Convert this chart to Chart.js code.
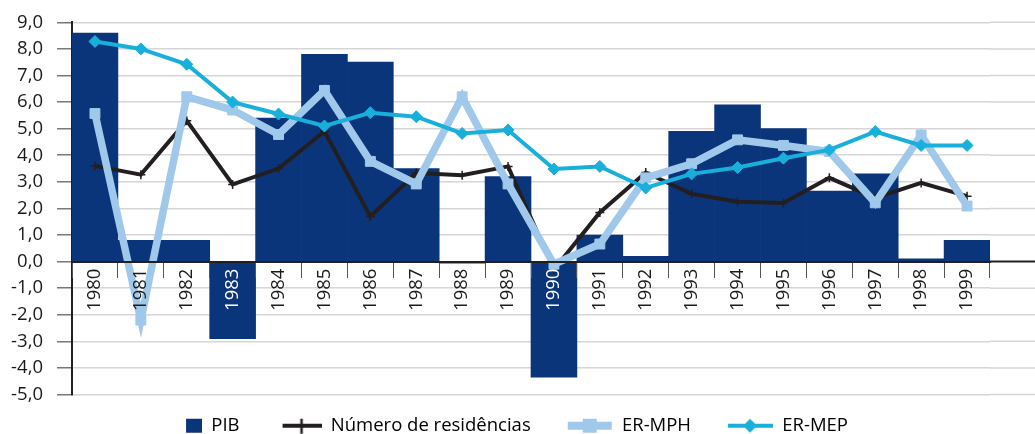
<!DOCTYPE html>
<html>
<head>
<meta charset="utf-8">
<script src="https://cdn.jsdelivr.net/npm/chart.js@4/dist/chart.umd.min.js"></script>
<style>
  html, body { margin: 0; padding: 0; background: #fff; }
  #wrap { width: 1035px; height: 434px; position: relative; }
</style>
</head>
<body>
<div id="wrap"><canvas id="chart"></canvas></div>
<script>
// Data
const years = ["1980", "1981", "1982", "1983", "1984", "1985", "1986", "1987", "1988", "1989",
               "1990", "1991", "1992", "1993", "1994", "1995", "1996", "1997", "1998", "1999"];
const pib = [8.6, 0.8, 0.8, -2.9, 5.4, 7.8, 7.5, 3.5, -0.06, 3.2,
             -4.35, 1.0, 0.2, 4.9, 5.9, 5.0, 2.65, 3.3, 0.1, 0.8];
const residencias = [3.6, 3.27, 5.3, 2.9, 3.5, 4.9, 1.7, 3.33, 3.25, 3.58,
                     -0.3, 1.85, 3.35, 2.55, 2.25, 2.2, 3.15, 2.4, 2.96, 2.46];
const erMph = [5.57, -2.2, 6.2, 5.7, 4.78, 6.44, 3.77, 2.92, 6.2, 2.92,
               -0.1, 0.66, 3.15, 3.68, 4.58, 4.37, 4.14, 2.21, 4.76, 2.09];
const erMep = [8.28, 8.0, 7.42, 6.0, 5.55, 5.1, 5.6, 5.45, 4.82, 4.95,
               3.48, 3.58, 2.77, 3.3, 3.54, 3.89, 4.2, 4.89, 4.37, 4.37];
const yMin = -5;
const yMax = 9;

const NAVY = "#0b357b";
const BLACK = "#231f20";
const LIGHT = "#a0c8eb";
const CYAN = "#19afdb";
const GRID = "#d6d6d6";

Chart.defaults.font.family = "'Open Sans', sans-serif";
Chart.defaults.font.size = 18.5;
Chart.defaults.color = "#1a1a1a";

// legend icons: the left part of each canvas is left empty as spacing
const ICON_W = 60;
function icon(draw) {
  const c = document.createElement("canvas");
  c.width = ICON_W;
  c.height = 18;
  const ctx = c.getContext("2d");
  ctx.translate(ICON_W - 45, 0);
  draw(ctx);
  return c;
}

const legendIcons = [
  icon(ctx => {
    ctx.fillStyle = NAVY;
    ctx.fillRect(29, 2, 16, 14);
  }),
  icon(ctx => {
    ctx.strokeStyle = BLACK;
    ctx.lineWidth = 4;
    ctx.beginPath(); ctx.moveTo(6, 9); ctx.lineTo(45, 9); ctx.stroke();
    ctx.lineWidth = 2.5;
    ctx.beginPath(); ctx.moveTo(25, 2); ctx.lineTo(25, 17); ctx.stroke();
  }),
  icon(ctx => {
    ctx.strokeStyle = LIGHT;
    ctx.lineWidth = 8;
    ctx.beginPath(); ctx.moveTo(0, 9); ctx.lineTo(44, 9); ctx.stroke();
    ctx.fillStyle = LIGHT;
    ctx.fillRect(15, 2, 14, 14);
  }),
  icon(ctx => {
    ctx.strokeStyle = CYAN;
    ctx.lineWidth = 4;
    ctx.beginPath(); ctx.moveTo(0, 9); ctx.lineTo(45, 9); ctx.stroke();
    ctx.fillStyle = CYAN;
    ctx.beginPath();
    ctx.moveTo(22, 2); ctx.lineTo(29, 9); ctx.lineTo(22, 16); ctx.lineTo(15, 9);
    ctx.closePath(); ctx.fill();
  })
];

// carries the horizontal grid lines (and the zero line) out to the right edge
const gridExtend = {
  id: "gridExtend",
  beforeDatasetsDraw(chart) {
    const { ctx, chartArea, scales: { y } } = chart;
    ctx.save();
    y.ticks.forEach((t, i) => {
      const py = y.getPixelForTick(i);
      ctx.strokeStyle = t.value === 0 ? BLACK : GRID;
      ctx.lineWidth = t.value === 0 ? 2 : 1.5;
      ctx.beginPath();
      ctx.moveTo(chartArea.right, py);
      ctx.lineTo(chart.width, py);
      ctx.stroke();
    });
    ctx.restore();
  }
};

new Chart(document.getElementById("chart"), {
  type: "bar",
  data: {
    labels: years,
    datasets: [
      {
        type: "bar",
        label: "PIB",
        data: pib,
        backgroundColor: NAVY,
        borderWidth: 0,
        barPercentage: 1,
        categoryPercentage: 1,
        order: 4
      },
      {
        type: "line",
        label: "Número de residências",
        data: residencias,
        borderColor: BLACK,
        borderWidth: 4,
        pointStyle: "cross",
        pointRadius: 4.5,
        pointBorderWidth: 1.5,
        pointBorderColor: BLACK,
        tension: 0,
        fill: false,
        order: 3
      },
      {
        type: "line",
        label: "ER-MPH",
        data: erMph,
        borderColor: LIGHT,
        borderWidth: 7.5,
        pointStyle: "rect",
        pointRadius: 7,
        pointBackgroundColor: LIGHT,
        pointBorderColor: LIGHT,
        pointBorderWidth: 1,
        tension: 0,
        fill: false,
        order: 2
      },
      {
        type: "line",
        label: "ER-MEP",
        data: erMep,
        borderColor: CYAN,
        borderWidth: 4,
        pointStyle: "rectRot",
        pointRadius: 6,
        pointBackgroundColor: CYAN,
        pointBorderColor: CYAN,
        pointBorderWidth: 1,
        tension: 0,
        fill: false,
        order: 1
      }
    ]
  },
  options: {
    responsive: true,
    maintainAspectRatio: false,
    animation: false,
    layout: {
      padding: { left: 0, right: 45, top: 0, bottom: -11 }
    },
    plugins: {
      tooltip: { enabled: false },
      legend: {
        position: "bottom",
        labels: {
          usePointStyle: true,
          pointStyleWidth: ICON_W,
          padding: 22,
          font: { size: 18.5 },
          generateLabels: chart => chart.data.datasets.map((ds, i) => ({
            text: ds.label,
            pointStyle: legendIcons[i],
            fillStyle: "transparent",
            strokeStyle: "transparent",
            lineWidth: 0,
            datasetIndex: i,
            hidden: false
          }))
        }
      }
    },
    scales: {
      x: {
        position: { y: 0 },
        offset: true,
        border: { color: BLACK, width: 2, z: 1 },
        grid: {
          offset: true,
          drawOnChartArea: false,
          drawTicks: true,
          tickLength: 15,
          tickColor: "#555",
          z: 1
        },
        ticks: {
          autoSkip: false,
          minRotation: 90,
          maxRotation: 90,
          padding: -8,
          z: 2,
          color: ctx => (pib[ctx.index] < -1 ? "#ffffff" : "#1a1a1a")
        }
      },
      y: {
        min: yMin,
        max: yMax,
        border: { color: BLACK, width: 2 },
        afterFit: scale => { scale.width = 72; },
        grid: {
          color: GRID,
          lineWidth: 1.5,
          tickLength: 15,
          tickColor: "#777"
        },
        ticks: {
          stepSize: 1,
          padding: 14,
          font: { size: 18.5, lineHeight: 0.9 },
          callback: v => v.toFixed(1).replace(".", ",")
        }
      }
    }
  },
  plugins: [gridExtend]
});
</script>
</body>
</html>
